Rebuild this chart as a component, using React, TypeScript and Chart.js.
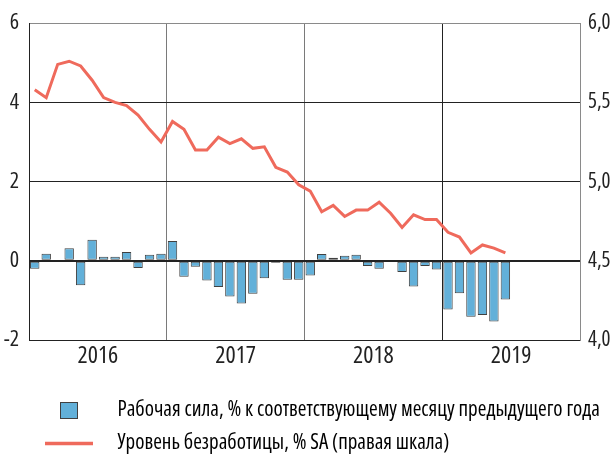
import React, { useEffect, useRef } from 'react';
import { Chart, registerables } from 'chart.js';
Chart.register(...registerables);

const years = ['2016', '2017', '2018', '2019'];
const monthLabels: string[] = [];
years.forEach((y) => { for (let m = 1; m <= 12; m++) monthLabels.push(`${y}-${m}`); });

const laborForce = [
  -0.2, 0.18, 0, 0.32, -0.62, 0.53, 0.1, 0.1, 0.22, -0.18, 0.15, 0.18,
  0.5, -0.4, -0.15, -0.5, -0.66, -0.9, -1.08, -0.83, -0.44, -0.05, -0.48, -0.48,
  -0.37, 0.17, 0.08, 0.13, 0.15, -0.13, -0.2, 0, -0.28, -0.65, -0.13, -0.22,
  -1.23, -0.82, -1.41, -1.37, -1.53, -0.98,
];

const unemployment = [
  5.58, 5.53, 5.74, 5.76, 5.73, 5.64, 5.53, 5.5, 5.48, 5.42, 5.33, 5.25,
  5.38, 5.33, 5.2, 5.2, 5.28, 5.24, 5.27, 5.21, 5.22, 5.09, 5.06, 4.98,
  4.94, 4.81, 4.85, 4.78, 4.82, 4.82, 4.87, 4.8, 4.71, 4.79, 4.76, 4.76,
  4.68, 4.65, 4.55, 4.6, 4.58, 4.55,
];

const leftTicks = [-2, 0, 2, 4, 6];
const rightTicks = [4, 4.5, 5, 5.5, 6];

const legendLabels = [
  'Рабочая сила, % к соответствующему месяцу предыдущего года',
  'Уровень безработицы, % SA (правая шкала)',
];

const BAR_FILL = '#62b0d9';
const BAR_BORDER = '#404040';
const LINE_COLOR = '#ef6a5c';
const FAMILY = "'Open Sans', sans-serif";
const STRETCH = 'condensed';

export default function App() {
  const ref = useRef<HTMLCanvasElement>(null);

  useEffect(() => {
    const ICON_W = 95;
    const ICON_H = 21;
    const ICON_CX = 57;
    const mk = (draw: (g: CanvasRenderingContext2D) => void) => {
      const c = document.createElement('canvas');
      c.width = ICON_W;
      c.height = ICON_H;
      const g = c.getContext('2d')!;
      draw(g);
      return c;
    };
    const barIcon = mk((g) => {
      g.fillStyle = BAR_FILL;
      g.fillRect(ICON_CX - 8.5, 2.5, 17, 16);
      g.strokeStyle = BAR_BORDER;
      g.lineWidth = 1;
      g.strokeRect(ICON_CX - 8.5, 2.5, 17, 16);
    });
    const lineIcon = mk((g) => {
      g.strokeStyle = LINE_COLOR;
      g.lineWidth = 3.5;
      g.beginPath();
      g.moveTo(ICON_CX - 24, 10.5);
      g.lineTo(ICON_CX + 24, 10.5);
      g.stroke();
    });

    const barData = monthLabels.map((_, i) => (i < laborForce.length ? laborForce[i] : null));
    const lineData = monthLabels.map((_, i) => (i < unemployment.length ? unemployment[i] : null));

    const chart = new Chart(ref.current!, {
      type: 'bar',
      data: {
        labels: monthLabels,
        datasets: [
          {
            type: 'bar',
            label: legendLabels[0],
            data: barData as any,
            backgroundColor: BAR_FILL,
            borderColor: BAR_BORDER,
            borderWidth: 1,
            borderSkipped: false,
            barPercentage: 0.82,
            categoryPercentage: 1,
            yAxisID: 'y',
            order: 2,
          },
          {
            type: 'line',
            label: legendLabels[1],
            data: lineData as any,
            borderColor: LINE_COLOR,
            borderWidth: 3,
            pointRadius: 0,
            tension: 0,
            yAxisID: 'y1',
            order: 1,
          } as any,
        ],
      },
      options: {
        animation: false,
        responsive: false,
        layout: { padding: { left: 0, right: 0, top: 20, bottom: -4 } },
        plugins: {
          tooltip: { enabled: false },
          legend: {
            position: 'bottom',
            align: 'start',
            labels: {
              usePointStyle: true,
              pointStyleWidth: ICON_W,
              padding: 12,
              color: '#222',
              font: { family: FAMILY, size: 21, weight: STRETCH as any },
              generateLabels: () => [
                { text: legendLabels[0], pointStyle: barIcon as any, fillStyle: BAR_FILL, strokeStyle: BAR_BORDER, lineWidth: 0, hidden: false, datasetIndex: 0 },
                { text: legendLabels[1], pointStyle: lineIcon as any, fillStyle: LINE_COLOR, strokeStyle: LINE_COLOR, lineWidth: 0, hidden: false, datasetIndex: 1 },
              ],
            },
          },
        },
        scales: {
          x: {
            type: 'category',
            display: false,
            offset: true,
          },
          x2: {
            type: 'linear',
            position: 'bottom',
            min: 0,
            max: 48,
            offset: false,
            afterBuildTicks: (axis: any) => {
              const t = [];
              for (let v = 0; v <= 48; v += 6) t.push({ value: v });
              axis.ticks = t;
            },
            afterFit: (axis: any) => { axis.height = 48; },
            grid: {
              offset: false,
              drawTicks: false,
              color: (ctx: any) => {
                const v = ctx.tick ? ctx.tick.value : 0;
                if (v === 12 || v === 24) return '#7a7a7a';
                if (v === 36) return '#222';
                return 'rgba(0,0,0,0)';
              },
              lineWidth: 1,
            },
            border: { color: '#222', width: 1 },
            ticks: {
              autoSkip: false,
              maxRotation: 0,
              padding: 2,
              color: '#222',
              font: { family: FAMILY, size: 24, weight: STRETCH as any },
              callback: (v: any) => {
                const n = Number(v);
                return n % 12 === 6 ? years[(n - 6) / 12] : '';
              },
            },
          },
          y: {
            position: 'left',
            min: -2,
            max: 6,
            afterBuildTicks: (axis: any) => {
              axis.ticks = leftTicks.map((v) => ({ value: v }));
            },
            afterFit: (axis: any) => { axis.width = 29; },
            grid: {
              drawTicks: false,
              color: (ctx: any) => {
                const v = ctx.tick ? ctx.tick.value : 0;
                if (v === 6) return '#8a8a8a';
                if (v === -2) return 'rgba(0,0,0,0)';
                return '#222';
              },
              lineWidth: (ctx: any) => (ctx.tick && ctx.tick.value === 0 ? 2 : 1),
            },
            border: { color: '#222', width: 1 },
            ticks: {
              padding: 10,
              color: '#222',
              font: { family: FAMILY, size: 22, weight: STRETCH as any },
              callback: (v: any) => String(v),
            },
          },
          y1: {
            position: 'right',
            min: 4,
            max: 6,
            afterBuildTicks: (axis: any) => {
              axis.ticks = rightTicks.map((v) => ({ value: v }));
            },
            afterFit: (axis: any) => { axis.width = 32; },
            grid: { display: false, drawTicks: false },
            border: { color: '#8a8a8a', width: 1 },
            ticks: {
              padding: 8,
              color: '#222',
              font: { family: FAMILY, size: 21, weight: STRETCH as any },
              callback: (v: any) => Number(v).toFixed(1).replace('.', ','),
            },
          },
        },
      },
    });
    return () => chart.destroy();
  }, []);

  return (
    <div style={{ position: 'fixed', left: 0, top: 0, width: 612, height: 460, background: '#fff' }}>
      <canvas ref={ref} width={612} height={460} style={{ display: 'block' }} />
    </div>
  );
}
